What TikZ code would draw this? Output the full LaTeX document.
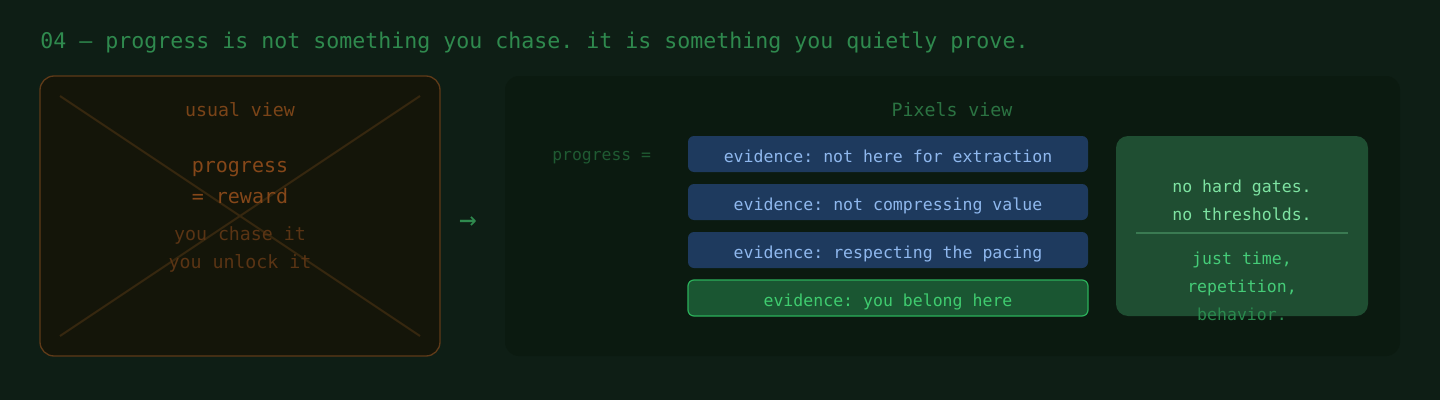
\documentclass[tikz,border=0pt]{standalone}
\usepackage{fontspec}
\newfontfamily\mono{DejaVu Sans Mono}
\definecolor{bg}{HTML}{0E1E15}
\definecolor{titlec}{HTML}{2F8A4E}
\definecolor{leftfill}{HTML}{141509}
\definecolor{leftborder}{HTML}{5E3A18}
\definecolor{crossc}{HTML}{36270F}
\definecolor{usualc}{HTML}{7A4418}
\definecolor{progc}{HTML}{854719}
\definecolor{chasec}{HTML}{5A3414}
\definecolor{panelc}{HTML}{0B1A10}
\definecolor{pixc}{HTML}{2B7342}
\definecolor{progeqc}{HTML}{1F5A32}
\definecolor{bluefill}{HTML}{1E3A5E}
\definecolor{bluetext}{HTML}{8FB8EE}
\definecolor{greenfill}{HTML}{1A5632}
\definecolor{greenborder}{HTML}{2BB05A}
\definecolor{greentext}{HTML}{3FCC6F}
\definecolor{cardfill}{HTML}{1F4E32}
\definecolor{cardtop}{HTML}{7EE3A2}
\definecolor{cardbot}{HTML}{45CC78}
\definecolor{cardfade}{HTML}{2A8A4E}
\definecolor{dividerc}{HTML}{3A7A52}
\definecolor{arrowc}{HTML}{2F8A4E}
\tikzset{
  txt/.style={anchor=base, inner sep=0pt, font=\mono\frenchspacing\fontsize{#1}{#1}\selectfont},
  evbox/.style={draw=none, fill=bluefill, rounded corners=4.5pt, minimum width=300pt, minimum height=27pt, inner sep=0pt},
  evgreen/.style={draw=greenborder, line width=0.9pt, fill=greenfill, rounded corners=4.5pt, minimum width=300pt, minimum height=27pt, inner sep=0pt},
}
\begin{document}
\begin{tikzpicture}[x=0.75pt,y=-0.75pt]
\useasboundingbox (0,0) rectangle (1440,400);
\fill[bg] (0,0) rectangle (1440,400);
% title
\node[txt=16.2pt, anchor=base west, text=titlec] (title) at (40,48) {04 — progress is not something you chase. it is something you quietly prove.};
% left box
\draw[leftborder, fill=leftfill, line width=1pt, rounded corners=10.5pt] (40,76) rectangle (440,356);
\coordinate (c1) at (60,96);
\coordinate (c2) at (420,336);
\coordinate (c3) at (420,96);
\coordinate (c4) at (60,336);
\draw[crossc, line width=1.5pt] (c1) -- (c2);
\draw[crossc, line width=1.5pt] (c3) -- (c4);
\node[txt=13.7pt, text=usualc] (usual) at (240,116) {usual view};
\node[txt=15pt, text=progc] (prog) at (240,172) {progress};
\node[txt=15pt, text=progc] (rew) at (240,203) {= reward};
\node[txt=13.7pt, text=chasec] (chase) at (240,240) {you chase it};
\node[txt=13.7pt, text=chasec] (unlock) at (240,268) {you unlock it};
% arrow
\node[txt=22pt, anchor=center, text=arrowc] (arr) at (468,223) {→};
% right panel
\fill[panelc, rounded corners=10.5pt] (505,76) rectangle (1400,356);
\node[txt=13.7pt, text=pixc] (pix) at (952,116) {Pixels view};
\node[txt=12.3pt, text=progeqc, anchor=base west] (progeq) at (552,160) {progress =};
\node[evbox] (e1) at (888,154) {};
\node[txt=12.4pt, text=bluetext] (t1) at (888,162) {evidence: not here for extraction};
\node[evbox] (e2) at (888,202) {};
\node[txt=12.4pt, text=bluetext] (t2) at (888,210) {evidence: not compressing value};
\node[evbox] (e3) at (888,250) {};
\node[txt=12.4pt, text=bluetext] (t3) at (888,258) {evidence: respecting the pacing};
\node[evgreen] (e4) at (888,298) {};
\node[txt=12.4pt, text=greentext] (t4) at (888,306) {evidence: you belong here};
% card
\fill[cardfill, rounded corners=9pt] (1116,136) rectangle (1368,316);
\node[txt=12.4pt, text=cardtop] (g1) at (1242,192) {no hard gates.};
\node[txt=12.4pt, text=cardtop] (g2) at (1242,220) {no thresholds.};
\coordinate (d1) at (1136,233);
\coordinate (d2) at (1348,233);
\draw[dividerc, line width=1.5pt] (d1) -- (d2);
\node[txt=12.4pt, text=cardbot] (b1) at (1242,264) {just time,};
\node[txt=12.4pt, text=cardbot] (b2) at (1242,292) {repetition,};
\node[txt=12.4pt, text=cardfade] (b3) at (1242,320) {behavior.};
\end{tikzpicture}
\end{document}
